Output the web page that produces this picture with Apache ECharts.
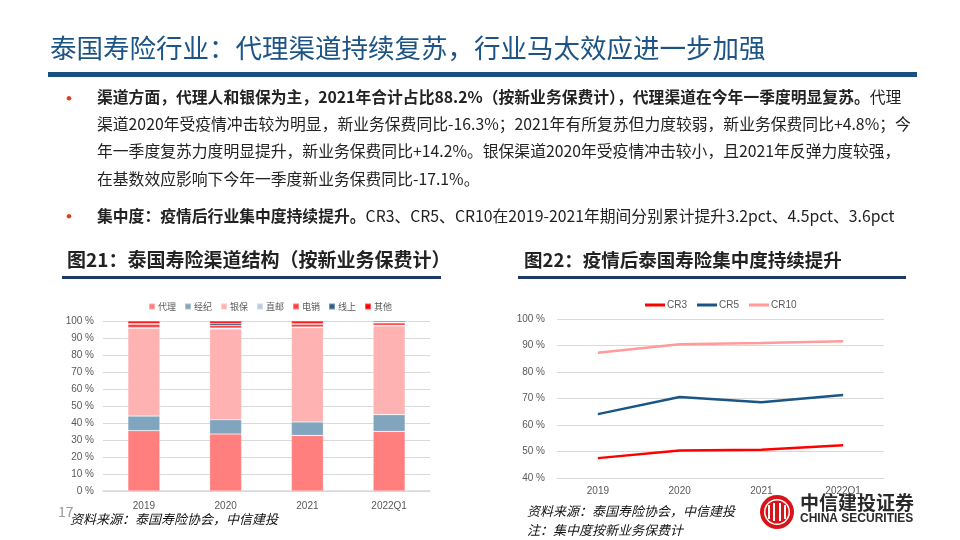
<!DOCTYPE html>
<html><head><meta charset="utf-8">
<script src="https://cdn.jsdelivr.net/npm/echarts@6/dist/echarts.min.js"></script>
<style>html,body{margin:0;padding:0;background:#fff}#c{width:960px;height:540px}</style>
</head><body><div id="c"></div>
<script>
const categories = ['2019', '2020', '2021', '2022Q1'];
// 图21 渠道结构 (%)
const agent = [35.5, 33.5, 32.7, 35.1];
const broker = [8.6, 8.4, 7.9, 9.8];
const banca = [51.6, 53.4, 55.5, 52.2];
const directMail = [0.4, 0.5, 0.4, 0.3];
const telemarketing = [2.0, 1.7, 1.6, 1.5];
const online = [0.5, 1.2, 0.6, 0.4];
const other = [1.4, 1.3, 1.3, 0.7];
const channelNames = ['代理', '经纪', '银保', '直邮', '电销', '线上', '其他'];
// 图22 集中度 (%)
const cr3 = [47.5, 50.4, 50.7, 52.4];
const cr5 = [64.1, 70.6, 68.6, 71.3];
const cr10 = [87.3, 90.5, 90.9, 91.6];
const crNames = ['CR3', 'CR5', 'CR10'];
const leftTicks = [0, 100, 10];
const rightTicks = [40, 100, 10];

const channelData = [agent, broker, banca, directMail, telemarketing, online, other];
const channelColors = ['#ff7f7f', '#82a5bf', '#ffb2b2', '#b9cde0', '#ff4040', '#2f5f8c', '#ff0000'];
const crData = [cr3, cr5, cr10];
const crColors = ['#ff0000', '#1a5586', '#ff9b9b'];

const FONT = '"Noto Sans CJK SC", "Noto Sans", sans-serif';
const chart = echarts.init(document.getElementById('c'), null, {renderer: 'canvas'});

const axisLabel = {color: '#595959', fontSize: 10, fontFamily: 'Liberation Sans, sans-serif'};

const series = [];
channelData.forEach((d, i) => {
  series.push({
    name: channelNames[i], type: 'bar', stack: 'ch', data: d,
    xAxisIndex: 0, yAxisIndex: 0, barWidth: 32,
    itemStyle: {color: channelColors[i], borderColor: 'rgba(255,255,255,0.35)', borderWidth: 0.6}
  });
});
crData.forEach((d, i) => {
  series.push({
    name: crNames[i], type: 'line', data: d, xAxisIndex: 1, yAxisIndex: 1,
    symbol: 'none', lineStyle: {color: crColors[i], width: 2.5}, itemStyle: {color: crColors[i]}
  });
});

function bodyLine(y, text, rich) {
  return {type: 'text', left: 97, top: y - 9, style: {text: text, rich: rich, font: '15.8px ' + FONT, fill: '#222'}};
}
const rich = {
  b: {fontSize: 15.8, fontWeight: 'bold', fontFamily: FONT, color: '#111'},
  n: {fontSize: 15.8, fontFamily: FONT, color: '#333'}
};

const option = {
  animation: false,
  backgroundColor: '#fff',
  grid: [
    {left: 103, right: 530, top: 321, bottom: 49},
    {left: 557, right: 76, top: 319, bottom: 62}
  ],
  legend: [
    {data: channelNames, left: 143, top: 297, itemWidth: 6, itemHeight: 6, itemGap: 8, icon: 'rect',
     textStyle: {fontSize: 9, color: '#595959', fontFamily: FONT, padding: [0, 0, 0, -2]}},
    {data: crNames, left: 640, top: 295, itemWidth: 20, itemHeight: 3, itemGap: 10, icon: 'rect',
     textStyle: {fontSize: 10, color: '#595959', fontFamily: 'Liberation Sans, sans-serif', padding: [0, 0, 0, -3]}}
  ],
  xAxis: [
    {type: 'category', data: categories, gridIndex: 0, axisTick: {show: false},
     axisLine: {lineStyle: {color: '#d9d9d9', width: 1.5}}, axisLabel: Object.assign({margin: 10}, axisLabel)},
    {type: 'category', data: categories, gridIndex: 1, axisTick: {show: false},
     axisLine: {lineStyle: {color: '#d9d9d9'}}, axisLabel: Object.assign({margin: 8}, axisLabel)}
  ],
  yAxis: [
    {type: 'value', gridIndex: 0, min: leftTicks[0], max: leftTicks[1], interval: leftTicks[2],
     axisLabel: Object.assign({formatter: '{value} %', margin: 9}, axisLabel),
     splitLine: {lineStyle: {color: '#d9d9d9'}}, axisLine: {show: false}, axisTick: {show: false}},
    {type: 'value', gridIndex: 1, min: rightTicks[0], max: rightTicks[1], interval: rightTicks[2],
     axisLabel: Object.assign({formatter: '{value} %', margin: 12}, axisLabel),
     splitLine: {lineStyle: {color: '#d9d9d9'}}, axisLine: {show: false}, axisTick: {show: false}}
  ],
  series: series,
  graphic: [
    {type: 'text', left: 50, top: 35, style: {text: '泰国寿险行业：代理渠道持续复苏，行业马太效应进一步加强', font: '26.5px ' + FONT, fill: '#1c5485'}},
    {type: 'rect', shape: {x: 48, y: 72, width: 869, height: 5}, style: {fill: '#165081'}},
    {type: 'text', left: 60, top: 89, style: {text: '•', font: 'bold 18px ' + FONT, fill: '#d8401f'}},
    {type: 'text', left: 60, top: 207, style: {text: '•', font: 'bold 18px ' + FONT, fill: '#d8401f'}},
    bodyLine(98, '{b|渠道方面，代理人和银保为主，2021年合计占比88.2%（按新业务保费计），代理渠道在今年一季度明显复苏。}{n|代理}', rich),
    bodyLine(125, '{n|渠道2020年受疫情冲击较为明显，新业务保费同比-16.3%；2021年有所复苏但力度较弱，新业务保费同比+4.8%；今}', rich),
    bodyLine(152, '{n|年一季度复苏力度明显提升，新业务保费同比+14.2%。银保渠道2020年受疫情冲击较小，且2021年反弹力度较强，}', rich),
    bodyLine(180, '{n|在基数效应影响下今年一季度新业务保费同比-17.1%。}', rich),
    bodyLine(217, '{b|集中度：疫情后行业集中度持续提升。}{n|CR3、CR5、CR10在2019-2021年期间分别累计提升3.2pct、4.5pct、3.6pct}', rich),
    {type: 'text', left: 67, top: 250, style: {text: '图21：泰国寿险渠道结构（按新业务保费计）', font: 'bold 19px ' + FONT, fill: '#222'}},
    {type: 'rect', shape: {x: 62, y: 276, width: 379, height: 3}, style: {fill: '#1d3a66'}},
    {type: 'text', left: 524, top: 251, style: {text: '图22：疫情后泰国寿险集中度持续提升', font: 'bold 18.5px ' + FONT, fill: '#222'}},
    {type: 'rect', shape: {x: 518, y: 276, width: 388, height: 3}, style: {fill: '#1d3a66'}},
    {type: 'text', left: 58, top: 505, style: {text: '17', font: '14px ' + FONT, fill: '#9a9a9a'}},
    {type: 'text', left: 70, top: 513, style: {text: '资料来源：泰国寿险协会，中信建投', font: 'italic 13px ' + FONT, fill: '#111'}},
    {type: 'text', left: 527, top: 505, style: {text: '资料来源：泰国寿险协会，中信建投', font: 'italic 13px ' + FONT, fill: '#111'}},
    {type: 'text', left: 527, top: 524, style: {text: '注：集中度按新业务保费计', font: 'italic 13px ' + FONT, fill: '#111'}},
    // logo
    {type: 'circle', shape: {cx: 777, cy: 512, r: 17}, style: {fill: '#d7141a'}},
    {type: 'circle', shape: {cx: 777, cy: 512, r: 13}, style: {fill: '#fff'}},
    {type: 'circle', shape: {cx: 777, cy: 512, r: 11.5}, style: {fill: '#d7141a'}},
    {type: 'rect', shape: {x: 768, y: 505, width: 2, height: 14}, style: {fill: '#fff'}},
    {type: 'rect', shape: {x: 773, y: 503, width: 2, height: 18}, style: {fill: '#fff'}},
    {type: 'rect', shape: {x: 779, y: 503, width: 2, height: 18}, style: {fill: '#fff'}},
    {type: 'rect', shape: {x: 784, y: 505, width: 2, height: 14}, style: {fill: '#fff'}},
    {type: 'text', left: 800, top: 493, style: {text: '中信建投证券', font: 'bold 19px ' + FONT, fill: '#2a2a2a'}},
    {type: 'text', left: 800, top: 513, style: {text: 'CHINA SECURITIES', font: 'bold 12px "Liberation Sans", sans-serif', fill: '#2a2a2a'}}
  ]
};
chart.setOption(option);
</script>
</body></html>
